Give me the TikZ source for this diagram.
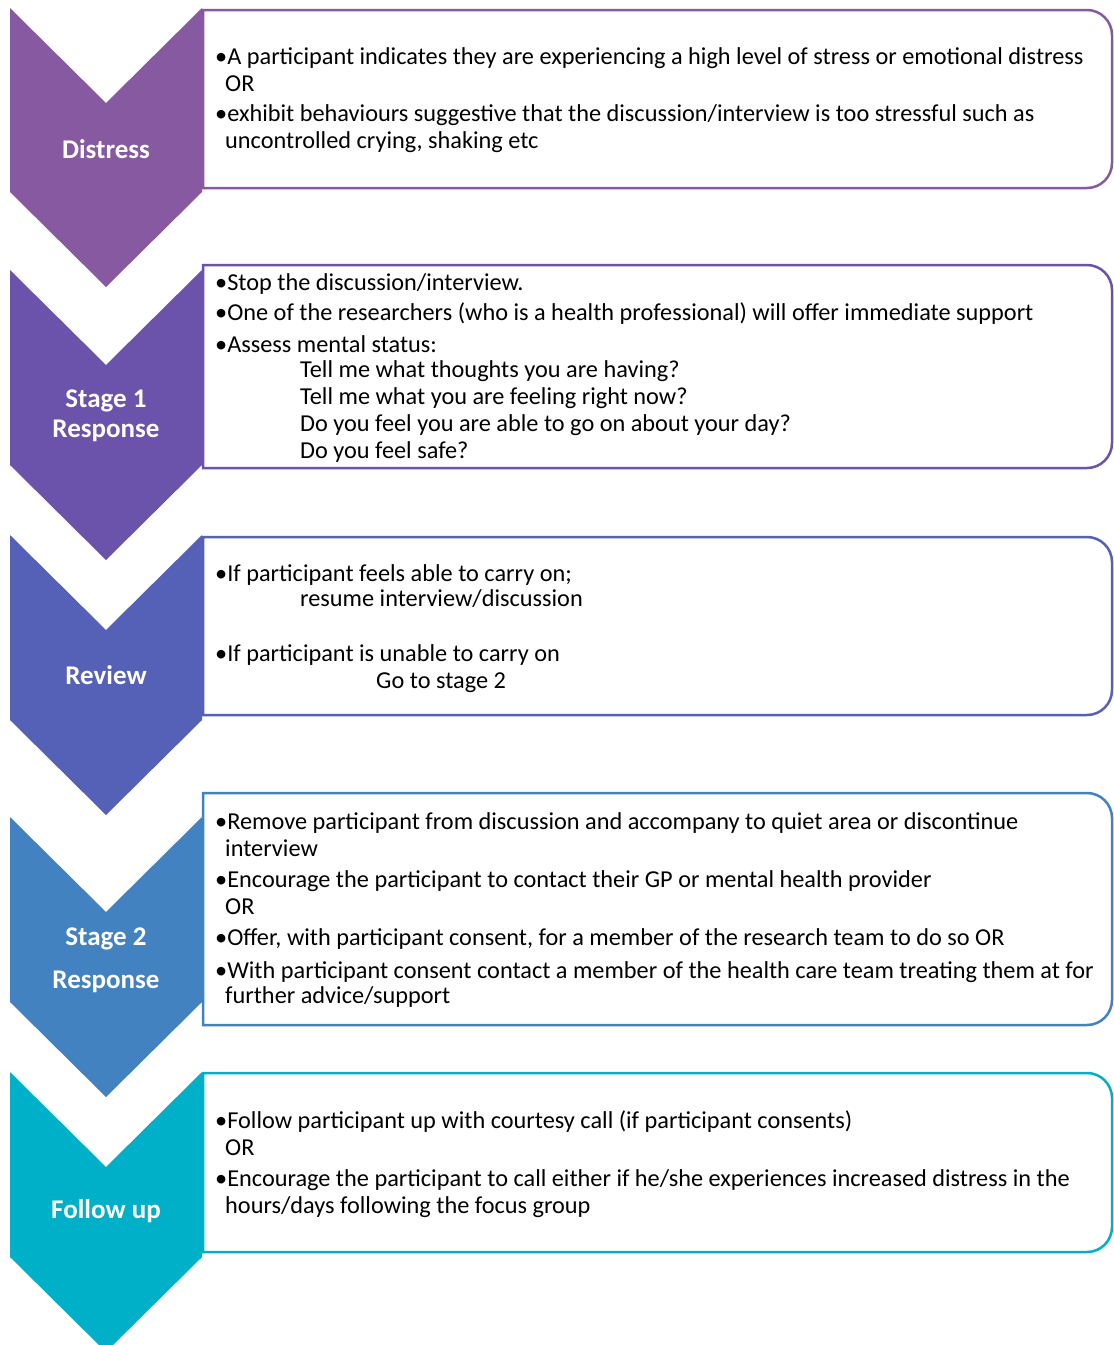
\documentclass[tikz,border=0pt]{standalone}
\usepackage{fontspec}
\setmainfont{Carlito}
\usetikzlibrary{positioning}

\definecolor{cDistress}{HTML}{8759A0}
\definecolor{cStageOne}{HTML}{6B52AB}
\definecolor{cReview}{HTML}{5560B7}
\definecolor{cStageTwo}{HTML}{4382C1}
\definecolor{cFollow}{HTML}{00AFC8}

\newcommand{\ind}{\hspace*{10pt}}
\newcommand{\subind}{\hspace*{85pt}}

\begin{document}
\begin{tikzpicture}[x=1pt, y=-1pt,
		stagelabel/.style={text=white, font=\bfseries\fontsize{27}{30}\selectfont, align=center, inner sep=0pt},
		boxtext/.style={anchor=north west, inner sep=0pt, align=left, font=\fontsize{24.3}{27}\selectfont},
		infobox/.style={draw=#1, line width=2.5pt, fill=white}]
		\useasboundingbox (0,0) rectangle (1114,1345);
		
		% chevrons
		\foreach \ya/\yb/\col in {8/192/cDistress, 270/465/cStageOne, 535/720/cReview, 817/1002/cStageTwo, 1072/1257/cFollow}
		\fill[\col] (10,\ya) -- (106,\ya+95) -- (202,\ya) -- (202,\yb) -- (106,\yb+95) -- (10,\yb) -- cycle;
		
		% boxes, rounded on the right only
		\foreach \ya/\yb/\col in {10/188/cDistress, 265/468/cStageOne, 537/715/cReview, 793/1025/cStageTwo, 1073/1252/cFollow}
		\draw[infobox=\col] (203,\ya+50) -- (203,\ya) -- (700,\ya) [rounded corners=25pt] -- (1112,\ya) -- (1112,\yb) -- (700,\yb) [sharp corners] -- (203,\yb) -- cycle;
		
		\node[stagelabel] (distress) at (106,149) {Distress};
		\node[stagelabel] (stageone) at (106,416) {Stage 1\\Response};
		\node[stagelabel] (review) at (106,675) {Review};
		\node[stagelabel] (stagetwo) at (106,960) {Stage 2\\[13pt]Response};
		\node[stagelabel] (followup) at (106,1211) {Follow up};
		
		\node[boxtext] (distressText) at (215,47) {%
			•A participant indicates they are experiencing a high level of stress or emotional distress\\
			\ind OR\\[3pt]
			•exhibit behaviours suggestive that the discussion/interview is too stressful such as\\
			\ind uncontrolled crying, shaking etc};
		
		\node[boxtext] (stageoneText) at (215,273) {%
			•Stop the discussion/interview.\\[3pt]
			•One of the researchers (who is a health professional) will offer immediate support\\[5pt]
			•Assess mental status:\\[-2pt]
			\subind Tell me what thoughts you are having?\\
			\subind Tell me what you are feeling right now?\\
			\subind Do you feel you are able to go on about your day?\\
			\subind Do you feel safe?};
		
		\node[boxtext] (reviewText) at (215,564) {%
			•If participant feels able to carry on;\\[-2pt]
			\subind resume interview/discussion\\[28pt]
			•If participant is unable to carry on\\
			\hspace*{161pt}Go to stage 2};
		
		\node[boxtext] (stagetwoText) at (215,812) {%
			•Remove participant from discussion and accompany to quiet area or discontinue\\
			\ind interview\\[4pt]
			•Encourage the participant to contact their GP or mental health provider\\
			\ind OR\\[4pt]
			•Offer, with participant consent, for a member of the research team to do so OR\\[6pt]
			•With participant consent contact a member of the health care team treating them at for\\[-2pt]
			\ind further advice/support};
		
		\node[boxtext] (followupText) at (215,1111) {%
			•Follow participant up with courtesy call (if participant consents)\\
			\ind OR\\[4pt]
			•Encourage the participant to call either if he/she experiences increased distress in the\\
			\ind hours/days following the focus group};
	\end{tikzpicture}
\end{document}
